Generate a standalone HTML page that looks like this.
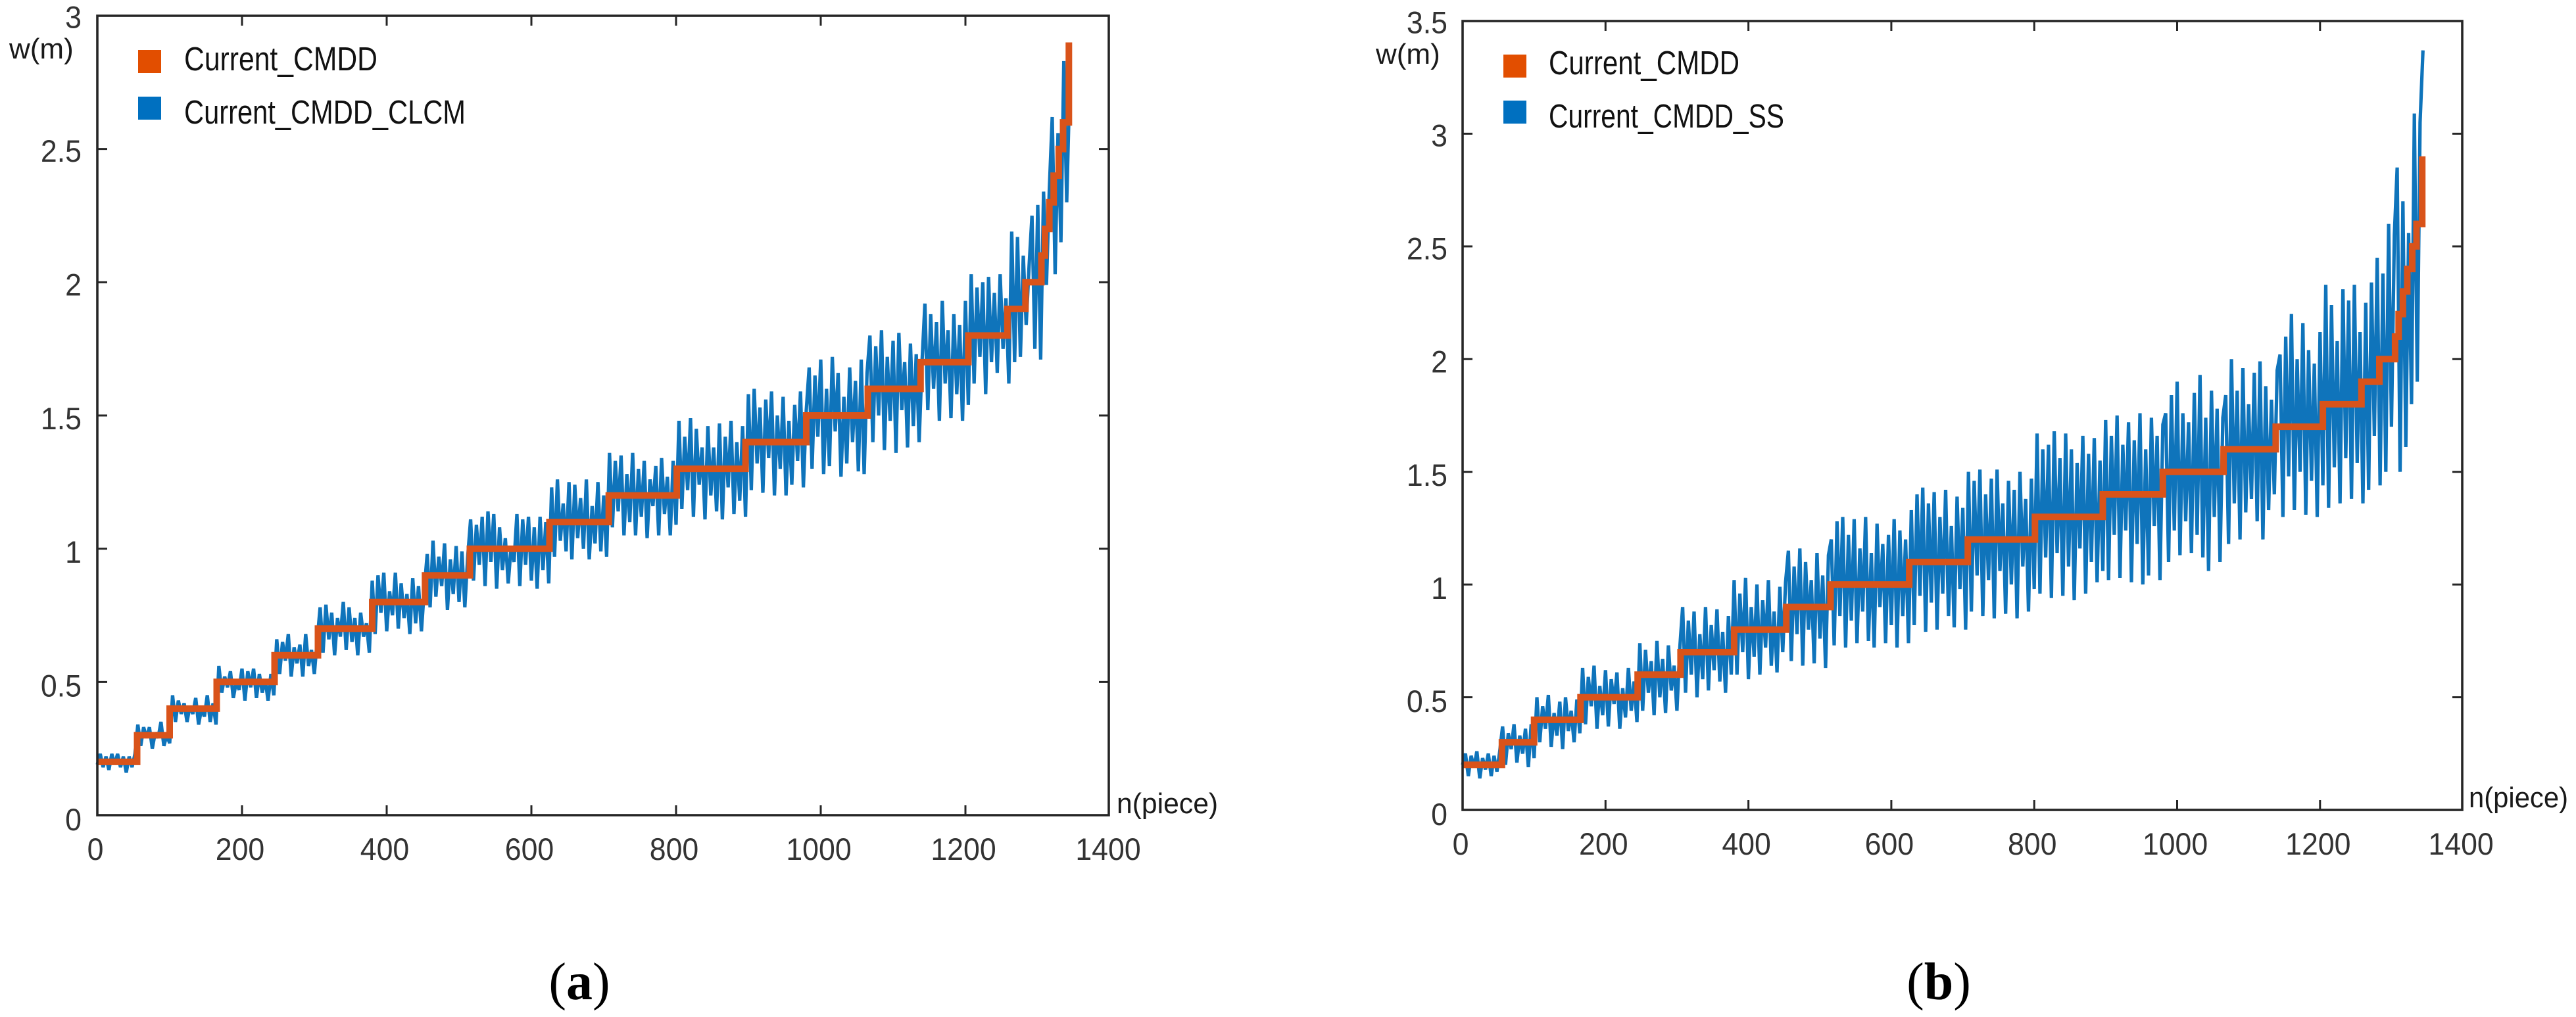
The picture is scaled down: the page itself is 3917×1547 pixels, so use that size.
<!DOCTYPE html>
<html lang="en">
<head>
<meta charset="utf-8">
<title>Current_CMDD comparison charts</title>
<style>
html,body{margin:0;padding:0;background:#fff;}
svg{display:block;}
text{font-family:"Liberation Sans",sans-serif;}
.tick-label{font-size:47px;fill:#333;}
.legend-label{font-size:51px;fill:#111;}
.axis-title{font-size:44px;fill:#1a1a1a;}
.caption{font-family:"Liberation Serif",serif;font-size:80px;fill:#000;}
</style>
</head>
<body>
<svg xmlns="http://www.w3.org/2000/svg" width="3917" height="1547" viewBox="0 0 3917 1547">
  <rect width="3917" height="1547" fill="#fff"/>
  <g id="chart-a"></g>
  <g id="chart-b"></g>

  <g>
    <rect x="210" y="76" width="35" height="35" fill="#e24e00"/>
    <text class="legend-label" x="280" y="107" textLength="294" lengthAdjust="spacingAndGlyphs">Current_CMDD</text>
    <rect x="210" y="147" width="35" height="35" fill="#0070c0"/>
    <text class="legend-label" x="280" y="188" textLength="428" lengthAdjust="spacingAndGlyphs">Current_CMDD_CLCM</text>
  </g>
  <g>
    <rect x="2286" y="83" width="35" height="35" fill="#e24e00"/>
    <text class="legend-label" x="2355" y="113" textLength="290" lengthAdjust="spacingAndGlyphs">Current_CMDD</text>
    <rect x="2286" y="153" width="35" height="35" fill="#0070c0"/>
    <text class="legend-label" x="2355" y="194" textLength="358" lengthAdjust="spacingAndGlyphs">Current_CMDD_SS</text>
  </g>

  <text class="axis-title" transform="translate(14,89)">w(m)</text>
  <text class="axis-title" transform="translate(1698,1237) scale(0.97,1)">n(piece)</text>
  <text class="axis-title" transform="translate(2092,97)">w(m)</text>
  <text class="axis-title" transform="translate(3754,1228) scale(0.95,1)">n(piece)</text>

  <text class="caption" x="881" y="1520" text-anchor="middle">(<tspan font-weight="bold">a</tspan>)</text>
  <text class="caption" x="2948" y="1520" text-anchor="middle">(<tspan font-weight="bold">b</tspan>)</text>
</svg>
<script>
const xTickValues = [0,200,400,600,800,1000,1200,1400];
const xTickLabels = ['0','200','400','600','800','1000','1200','1400'];
const yTickValuesA = [0,0.5,1,1.5,2,2.5,3];
const yTickLabelsA = ['0','0.5','1','1.5','2','2.5','3'];
const yTickValuesB = [0,0.5,1,1.5,2,2.5,3,3.5];
const yTickLabelsB = ['0','0.5','1','1.5','2','2.5','3','3.5'];

// Current_CMDD stair: piece number where each width level begins, and that level
const stairPieces = [0,55,100,165,245,305,380,453,515,625,707,801,896,980,1065,1138,1204,1258,1283,1305,1310,1316,1322,1329,1335,1343];
const stairWidths = [0.2,0.3,0.4,0.5,0.6,0.7,0.8,0.9,1.0,1.1,1.2,1.3,1.4,1.5,1.6,1.7,1.8,1.9,2.0,2.1,2.2,2.3,2.4,2.5,2.6,2.9];

// Blue traces: one reading every 4 pieces, starting at piece 0
const samplePieceStep = 4;
const seriesClcm = [
0.19,0.23,0.18,0.22,0.17,0.23,0.19,0.23,0.18,0.22,0.16,0.22,0.18,0.23,
0.34,0.26,0.33,0.29,0.33,0.25,0.31,0.29,0.35,0.26,0.30,0.27,
0.45,0.35,0.43,0.38,0.42,0.35,0.41,0.38,0.44,0.34,0.40,0.37,0.45,0.35,0.42,0.34,
0.56,0.46,0.52,0.48,0.54,0.44,0.50,0.47,0.55,0.43,0.54,0.48,0.55,0.44,0.53,0.46,0.51,0.43,0.53,0.45,
0.66,0.53,0.65,0.58,0.68,0.52,0.63,0.57,0.64,0.52,0.68,0.56,0.62,0.53,0.66,
0.78,0.61,0.79,0.66,0.76,0.60,0.74,0.67,0.80,0.62,0.78,0.65,0.74,0.60,0.76,0.67,0.72,0.61,
0.88,0.68,0.90,0.76,0.91,0.69,0.84,0.75,0.91,0.70,0.87,0.74,0.83,0.68,0.89,0.72,0.86,0.69,0.85,
0.98,0.78,1.03,0.82,0.97,0.86,1.02,0.77,0.96,0.83,1.01,0.80,0.99,0.78,0.97,
1.11,0.88,1.09,0.94,1.12,0.86,1.14,0.95,1.13,0.85,1.08,0.92,1.04,0.87,1.01,0.95,1.13,0.86,1.11,0.94,1.12,0.88,1.08,0.85,1.12,0.92,1.10,0.87,
1.23,0.97,1.26,1.03,1.17,0.99,1.25,0.96,1.24,1.04,1.19,1.00,1.26,0.96,1.16,1.02,1.25,0.99,1.20,0.97,
1.36,1.08,1.33,1.14,1.35,1.05,1.28,1.10,1.36,1.05,1.30,1.12,1.33,1.04,1.26,1.16,1.31,1.05,1.34,1.13,1.27,1.05,1.33,1.09,
1.48,1.15,1.42,1.22,1.49,1.12,1.45,1.24,1.38,1.11,1.46,1.20,1.38,1.14,1.47,1.11,1.42,1.23,1.48,1.13,1.40,1.18,1.46,1.12,
1.58,1.22,1.60,1.32,1.53,1.21,1.56,1.34,1.59,1.20,1.50,1.30,1.57,1.20,1.48,1.24,1.54,1.33,1.59,1.23,1.52,
1.68,1.30,1.65,1.42,1.71,1.28,1.60,1.31,1.72,1.44,1.66,1.27,1.57,1.32,1.68,1.40,1.63,1.29,1.71,1.28,1.66,
1.80,1.40,1.76,1.50,1.82,1.37,1.72,1.48,1.78,1.36,1.81,1.52,1.70,1.38,1.77,1.46,1.73,1.40,1.70,
1.92,1.52,1.88,1.60,1.85,1.48,1.93,1.62,1.82,1.49,1.88,1.58,1.84,1.48,1.93,1.54,
2.03,1.62,1.98,1.72,2.00,1.58,2.02,1.70,1.96,1.66,2.03,1.75,1.94,1.62,2.19,
1.70,2.17,1.72,2.10,1.84,2.06,
2.25,1.75,2.29,1.71,
2.34,1.99,2.35,2.62,2.03,2.56,2.15,2.83,2.30,2.72
];
const seriesSs = [
0.20,0.25,0.15,0.24,0.19,0.26,0.14,0.23,0.18,0.25,0.15,0.24,0.17,0.26,
0.37,0.20,0.34,0.27,0.38,0.21,0.33,0.25,0.36,0.19,0.38,0.23,
0.50,0.30,0.46,0.36,0.51,0.28,0.43,0.33,0.48,0.27,0.50,0.35,0.44,0.30,0.49,0.34,
0.63,0.38,0.59,0.46,0.64,0.36,0.55,0.42,0.62,0.37,0.58,0.47,0.61,0.36,0.54,0.41,0.63,0.44,0.57,0.39,
0.74,0.44,0.71,0.52,0.66,0.42,0.75,0.50,0.67,0.43,0.73,0.53,0.64,0.44,0.72,
0.90,0.52,0.84,0.60,0.88,0.50,0.78,0.58,0.90,0.53,0.82,0.62,0.89,0.57,0.79,0.52,0.86,0.60,
1.02,0.60,0.96,0.70,1.03,0.58,0.90,0.68,1.00,0.60,0.93,0.72,1.02,0.64,0.88,0.61,0.99,0.70,1.01,
1.15,0.66,1.08,0.78,1.16,0.64,1.10,0.80,1.02,0.65,1.14,0.76,1.04,0.63,1.13,
1.20,0.73,1.28,0.86,1.30,0.72,1.22,0.84,1.29,0.74,1.16,0.88,1.30,0.75,1.14,0.72,1.27,0.90,1.18,0.74,1.22,0.82,1.29,0.72,1.24,0.86,1.20,0.74,
1.33,0.82,1.40,0.95,1.43,0.79,1.36,0.92,1.41,0.80,1.30,0.96,1.42,0.86,1.26,0.81,1.39,0.98,1.34,0.80,
1.50,0.88,1.46,1.04,1.51,0.86,1.40,1.02,1.47,0.85,1.51,1.06,1.36,0.87,1.46,1.00,1.42,0.85,1.50,1.08,1.38,0.88,1.47,0.98,
1.67,0.96,1.60,1.12,1.62,0.94,1.68,1.14,1.56,0.95,1.67,1.08,1.60,0.93,1.54,1.16,1.66,0.96,1.58,1.10,1.65,1.01,1.55,1.06,
1.73,1.02,1.66,1.22,1.75,1.03,1.62,1.24,1.72,1.01,1.64,1.18,1.76,1.00,1.60,1.04,1.74,1.26,1.66,1.02,1.71,
1.76,1.10,1.84,1.24,1.90,1.13,1.76,1.28,1.72,1.14,1.85,1.22,1.93,1.12,1.74,1.06,1.86,1.30,1.78,1.10,1.74,
1.84,1.18,2.00,1.36,1.86,1.20,1.96,1.32,1.80,1.38,1.94,1.28,1.99,1.20,1.88,1.33,1.82,1.40,1.95,
2.02,1.30,2.10,1.48,2.20,1.33,2.00,1.50,2.16,1.31,2.04,1.46,1.98,1.30,2.12,1.44,
2.33,1.34,2.24,1.52,2.08,1.36,2.31,1.56,2.26,1.38,2.33,1.54,2.12,1.36,2.25,
1.42,2.34,1.66,2.45,1.44,2.38,
1.50,2.60,1.70,2.55,
2.85,1.50,2.70,1.61,2.56,1.80,3.09,1.90,3.05,3.37
];

const SVG_NS = 'http://www.w3.org/2000/svg';

function addShape(parent, tag, attrs) {
  const el = document.createElementNS(SVG_NS, tag);
  for (const key in attrs) el.setAttribute(key, attrs[key]);
  parent.appendChild(el);
  return el;
}

function drawChart(cfg) {
  const root = document.getElementById(cfg.id);
  const xPos = n => cfg.left + n * cfg.pxPerPiece;
  const yPos = w => cfg.bottom - w * cfg.pxPerMetre;

  // Blue trace
  const tracePoints = cfg.series.map((w, i) => xPos(i * samplePieceStep).toFixed(1) + ',' + yPos(w).toFixed(1)).join(' ');
  const trace = addShape(root, 'polyline', {points: tracePoints, fill: 'none', stroke: '#0f74bb', 'stroke-width': 5.2, 'stroke-linejoin': 'bevel'});
  
  

  // Orange stair
  let stairPath = 'M' + xPos(stairPieces[0]).toFixed(1) + ' ' + yPos(stairWidths[0]).toFixed(1);
  for (let i = 1; i < stairPieces.length; i++) {
    stairPath += 'H' + xPos(stairPieces[i]).toFixed(1) + 'V' + yPos(stairWidths[i]).toFixed(1);
  }
  const stair = addShape(root, 'path', {d: stairPath, fill: 'none', stroke: '#d9531a', 'stroke-width': 10, 'stroke-linejoin': 'miter'});
  
  

  // Plot box
  const box = addShape(root, 'rect', {x: cfg.left, y: cfg.top, width: cfg.right - cfg.left, height: cfg.bottom - cfg.top, fill: 'none', stroke: '#262626', 'stroke-width': 3.6});
  
  

  // X ticks
  xTickValues.forEach((value, i) => {
    const x = Math.min(xPos(value), cfg.right);
    const up = addShape(root, 'path', {d: 'M' + x + ' ' + cfg.bottom + 'v-15M' + x + ' ' + cfg.top + 'v15', stroke: '#262626', 'stroke-width': 3, fill: 'none'});
    
    
    const label = addShape(root, 'text', {'class': 'tick-label', 'text-anchor': 'middle', transform: 'translate(' + (xPos(value) + cfg.xLabelDx) + ',' + cfg.xLabelY + ') scale(0.95,1)'});
    label.textContent = xTickLabels[i];
    
    
  });

  // Y ticks
  cfg.yValues.forEach((value, i) => {
    const y = yPos(value);
    const mark = addShape(root, 'path', {d: 'M' + cfg.left + ' ' + y + 'h15M' + cfg.right + ' ' + y + 'h-15', stroke: '#262626', 'stroke-width': 3, fill: 'none'});
    
    
    const frac = value / cfg.yValues[cfg.yValues.length - 1];
    const label = addShape(root, 'text', {'class': 'tick-label', 'text-anchor': 'end', transform: 'translate(' + cfg.yLabelX + ',' + (y + 23 - 4.5 * frac) + ') scale(0.95,1)'});
    label.textContent = cfg.yLabels[i];
    
    
  });
}

drawChart({
  id: 'chart-a', traceName: 'current-cmdd-clcm', series: seriesClcm,
  left: 148, right: 1686, top: 24, bottom: 1240,
  pxPerPiece: 1.1, pxPerMetre: 405.33,
  yValues: yTickValuesA, yLabels: yTickLabelsA,
  xLabelDx: -3, xLabelY: 1308, yLabelX: 124
});
drawChart({
  id: 'chart-b', traceName: 'current-cmdd-ss', series: seriesSs,
  left: 2224, right: 3744, top: 32, bottom: 1232,
  pxPerPiece: 1.0865, pxPerMetre: 342.86,
  yValues: yTickValuesB, yLabels: yTickLabelsB,
  xLabelDx: -3, xLabelY: 1300, yLabelX: 2201
});
</script>
</body>
</html>
